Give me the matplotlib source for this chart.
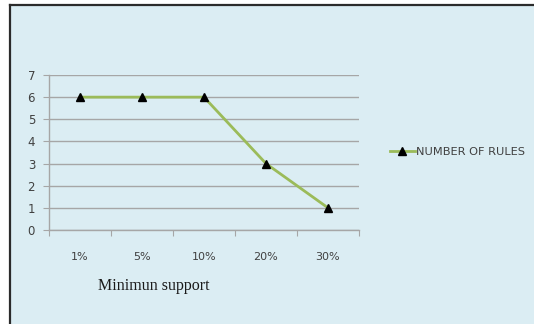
import matplotlib
matplotlib.use('Agg')
import matplotlib.pyplot as plt
from matplotlib.patches import Rectangle
from matplotlib.lines import Line2D

supports = ['1%', '5%', '10%', '20%', '30%']
num_rules = [6, 6, 6, 3, 1]
series_name = 'NUMBER OF RULES'
x_title = 'Minimun support'

W, H = 534, 324
bg = '#dbedf3'
green = '#9bbb59'
grid = '#a6a6a6'
txt = '#404040'

fig = plt.figure(figsize=(W / 100, H / 100), dpi=100)
fig.patch.set_facecolor('white')

# chart area background with a dark frame on the left and top
fig.add_artist(Rectangle((10 / W, 0), 1, 1 - 5 / H, transform=fig.transFigure,
                         facecolor=bg, edgecolor='none', zorder=0))
fig.add_artist(Line2D([10 / W, 10 / W], [0, 1 - 5 / H], transform=fig.transFigure,
                      color='#2b2b2b', lw=1.6))
fig.add_artist(Line2D([10 / W, 1], [1 - 5 / H, 1 - 5 / H], transform=fig.transFigure,
                      color='#2b2b2b', lw=1.6))

ax = fig.add_axes([49 / W, 1 - 230 / H, (359 - 49) / W, (230 - 75) / H])
ax.set_facecolor('none')

x = list(range(len(supports)))
line, = ax.plot(x, num_rules, color=green, lw=2, marker='^', markersize=6,
                markerfacecolor='black', markeredgecolor='black', zorder=3)

ax.set_xlim(-0.5, len(supports) - 0.5)
ax.set_ylim(0, 7)
ax.set_yticks(range(0, 8))
ax.yaxis.grid(True, color=grid, lw=1)
ax.set_axisbelow(True)

# category boundaries carry the tick marks, labels sit at the centres
ax.set_xticks([i - 0.5 for i in range(len(supports) + 1)])
ax.set_xticklabels([])
ax.set_xticks(x, minor=True)
ax.set_xticklabels(supports, minor=True)
ax.tick_params(axis='x', which='major', length=4, color=grid, direction='out')
ax.tick_params(axis='x', which='minor', length=0, pad=16, labelsize=8, labelcolor=txt)
ax.tick_params(axis='y', length=4, color=grid, direction='out', pad=6,
               labelsize=8.5, labelcolor=txt)

for side in ('top', 'right'):
    ax.spines[side].set_visible(False)
for side in ('left', 'bottom'):
    ax.spines[side].set_color(grid)
    ax.spines[side].set_linewidth(1)

fig.text(154 / W, 1 - 286 / H, x_title, ha='center', va='center',
         family=['Liberation Serif', 'DejaVu Serif'], fontsize=11.5, color='#1a1a1a')

leg = fig.legend([line], [series_name], loc='center left',
                 bbox_to_anchor=(384 / W, 1 - 152 / H), frameon=False,
                 handlelength=2.2, handletextpad=0.1, borderpad=0,
                 prop={'family': ['Liberation Sans Narrow', 'DejaVu Sans'], 'size': 8.2})
for t in leg.get_texts():
    t.set_color(txt)

fig.savefig('out.png', dpi=100)
